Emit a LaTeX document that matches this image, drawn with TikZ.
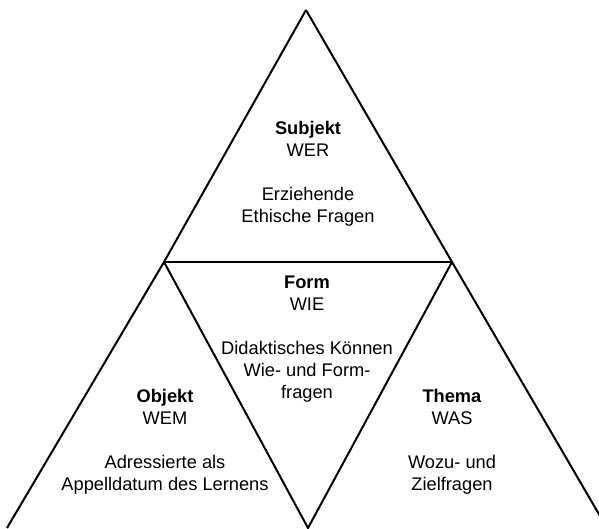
\documentclass[tikz,border=0pt]{standalone}
\usepackage{fontspec}
\setmainfont{Liberation Sans}
\usetikzlibrary{positioning}

\begin{document}
\begin{tikzpicture}[x=0.75pt,y=-0.75pt,line width=1.5pt,
  lbl/.style={align=center,inner sep=0pt,font=\fontsize{13.7}{16.5}\selectfont}]
  \useasboundingbox (0,0) rectangle (599,528);
  \clip (0,0) rectangle (599,528);
  % corners of the big triangle and of the inner one
  \coordinate (top) at (306,10);
  \coordinate (ml) at (164,262);
  \coordinate (mr) at (452,262);
  \coordinate (bl) at (7,528);
  \coordinate (bm) at (308,528);
  \coordinate (br) at (607,528);
  \draw (top) -- (ml) -- (bl);
  \draw (top) -- (mr) -- (br);
  \draw (ml) -- (mr);
  \draw (ml) -- (bm) -- (mr);
  % texts of the four fields
  \node[lbl] (subj) at (308,174) {\textbf{Subjekt}\\WER\\[16.5pt]Erziehende\\Ethische Fragen};
  \node[lbl] (form) at (307,339) {\textbf{Form}\\WIE\\[16.5pt]Didaktisches Können\\Wie- und Form-\\fragen};
  \node[lbl] (obj) at (165,442) {\textbf{Objekt}\\WEM\\[16.5pt]Adressierte als\\Appelldatum des Lernens};
  \node[lbl] (thema) at (452,442) {\textbf{Thema}\\WAS\\[16.5pt]Wozu- und\\Zielfragen};
\end{tikzpicture}
\end{document}
